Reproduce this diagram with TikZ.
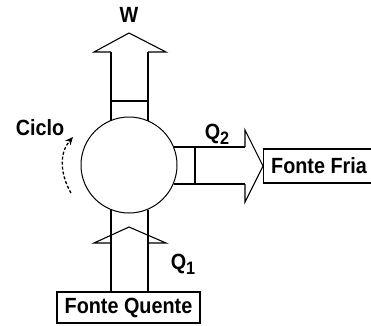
\documentclass[tikz,border=0pt]{standalone}
\usepackage{fontspec}
\setmainfont{Liberation Sans}
\usetikzlibrary{calc,arrows.meta}
\newcommand{\narrowtxt}[1]{\scalebox{0.9}[1]{#1}}
\begin{document}
\begin{tikzpicture}[x=1pt,y=-1pt,
  lbl/.style={font=\fontsize{22}{23}\selectfont\bfseries, inner sep=0pt},
  boxnode/.style={draw, line width=1.3pt, inner sep=0pt},
  shaft/.style={line width=1.4pt, line join=miter},
  head/.style={line width=1.1pt, line join=miter}]
\useasboundingbox (0,0) rectangle (371,325);
% cycle circle
\node[circle, draw, line width=1pt, minimum size=96pt, inner sep=0pt] (cyc) at (129,165) {};
% boxes
\node[boxnode, minimum width=143pt, minimum height=31pt] (hot) at (128.5,307.5) {};
\node[lbl] (hottxt) at (hot.center) {\narrowtxt{Fonte Quente}};
\node[boxnode, anchor=west, minimum width=112pt, minimum height=34pt] (cold) at (263,166) {};
\node[lbl, anchor=west] (coldtxt) at (271,166) {\narrowtxt{Fonte Fria}};
% labels
\node[lbl] (w) at (129,15) {\narrowtxt{W}};
\node[lbl] (ciclo) at (40,128) {\narrowtxt{Ciclo}};
\node[lbl] (q2) at (217,134) {\narrowtxt{Q\raisebox{-0.45ex}{\fontsize{18}{19}\selectfont 2}}};
\node[lbl] (q1) at (183,264) {\narrowtxt{Q\raisebox{-0.45ex}{\fontsize{18}{19}\selectfont 1}}};
% top arrow (W)
\draw[shaft] (111,120.5) -- (111,52);
\draw[shaft] (148,120.5) -- (148,52);
\draw[shaft] (111,101) -- (148,101);
\draw[head] (111,52) -- (94,52) -- (129,33) -- (166,52) -- (148,52);
% right arrow (Q2)
\draw[shaft] (173.5,147) -- (245,147);
\draw[shaft] (173.5,184) -- (245,184);
\draw[shaft] (195,147) -- (195,184);
\draw[head] (245,147) -- (245,130) -- (cold.west) -- (245,202) -- (245,184);
% bottom arrow (Q1)
\draw[shaft] (111,209.5) -- (111,292);
\draw[shaft] (148,209.5) -- (148,292);
\draw[head] (111,243) -- (94,243) -- (129,227) -- (166,243) -- (148,243);
% cycle direction
\draw[line width=1.3pt, dash pattern=on 3pt off 2pt, -{Stealth[length=8pt,width=7pt]}]
  (71,193) .. controls (59,172) and (60,152) .. (73,137);
\end{tikzpicture}
\end{document}
